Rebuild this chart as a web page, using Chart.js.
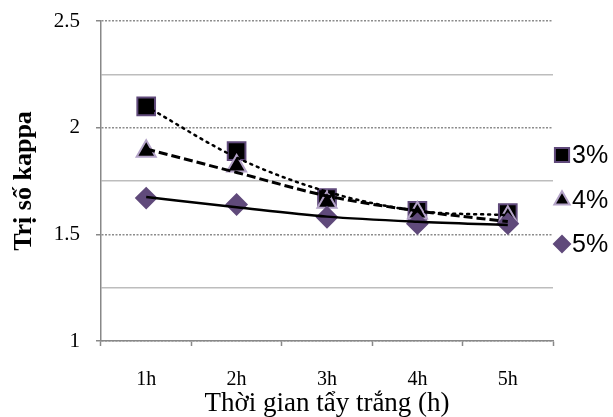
<!DOCTYPE html>
<html>
<head>
<meta charset="utf-8">
<script src="https://cdn.jsdelivr.net/npm/chart.js@4"></script>
<style>
  html, body { margin: 0; padding: 0; background: #fff; }
  #wrap { width: 613px; height: 417px; }
</style>
</head>
<body>
<div id="wrap"><canvas id="kappaChart" width="613" height="417"></canvas></div>
<script>
var hours = ['1h', '2h', '3h', '4h', '5h'];
var seriesNames = ['3%', '4%', '5%'];

// measured kappa values
var kappa3 = [2.10, 1.89, 1.67, 1.61, 1.60];
var kappa4 = [1.89, 1.82, 1.65, 1.60, 1.58];
var kappa5 = [1.67, 1.64, 1.58, 1.55, 1.55];

// trend curves read at each time
var trend3 = [2.10, 1.86, 1.70, 1.61, 1.59];
var trend4 = [1.90, 1.79, 1.68, 1.61, 1.56];
var trend5 = [1.675, 1.627, 1.583, 1.559, 1.544];

var yMin = 1, yMax = 2.5, yStep = 0.25;

var purple = '#604a7b';
var lilac = '#b3a2c7';

var markerSets = [
  { label: seriesNames[0], data: kappa3, pointStyle: 'rect', radius: 12.5, bg: '#000', border: purple, order: 4 },
  { label: seriesNames[1], data: kappa4, pointStyle: 'triangle', radius: 11, bg: '#000', border: lilac, order: 3 },
  { label: seriesNames[2], data: kappa5, pointStyle: 'rectRot', radius: 10, bg: purple, border: purple, order: 2 }
];

var datasets = [
  { label: 'trend3', data: trend3, borderColor: '#000', borderWidth: 2.5, borderDash: [2, 5], borderCapStyle: 'round',
    pointRadius: 0, cubicInterpolationMode: 'monotone', fill: false, order: 1 },
  { label: 'trend4', data: trend4, borderColor: '#000', borderWidth: 3, borderDash: [9, 4],
    pointRadius: 0, cubicInterpolationMode: 'monotone', fill: false, order: 1 },
  { label: 'trend5', data: trend5, borderColor: '#000', borderWidth: 2.5,
    pointRadius: 0, cubicInterpolationMode: 'monotone', fill: false, order: 1 }
];

markerSets.forEach(function (m) {
  datasets.push({
    label: m.label,
    data: m.data,
    showLine: false,
    pointStyle: m.pointStyle,
    pointRadius: m.radius,
    pointHoverRadius: m.radius,
    pointBackgroundColor: m.bg,
    pointBorderColor: m.border,
    pointBorderWidth: 2,
    backgroundColor: m.bg,
    borderColor: m.border,
    order: m.order
  });
});

function isMajor(v) {
  return Math.abs(v * 2 - Math.round(v * 2)) < 1e-6;
}

// legend on the right: markers only, no lines
var sideLegend = {
  id: 'sideLegend',
  afterDraw: function (chart) {
    var ctx = chart.ctx;
    var rows = [155, 200, 244];
    ctx.save();
    markerSets.forEach(function (m, i) {
      ctx.fillStyle = m.bg;
      ctx.strokeStyle = m.border;
      ctx.lineWidth = 2;
      Chart.helpers.drawPoint(ctx, { pointStyle: m.pointStyle, radius: m.radius * 0.8, rotation: 0, borderWidth: 2 }, 562, rows[i]);
      ctx.fillStyle = '#000';
      ctx.font = '25px "Liberation Sans", Arial, sans-serif';
      ctx.textBaseline = 'middle';
      ctx.textAlign = 'left';
      ctx.fillText(m.label, 572, rows[i] + 1);
    });
    ctx.restore();
  }
};

new Chart(document.getElementById('kappaChart'), {
  type: 'line',
  data: { labels: hours, datasets: datasets },
  options: {
    responsive: false,
    animation: false,
    events: [],
    layout: { autoPadding: false, padding: { top: 21, right: 60, left: 0, bottom: 0 } },
    plugins: {
      legend: { display: false },
      tooltip: { enabled: false }
    },
    scales: {
      x: {
        offset: true,
        grid: {
          offset: true,
          drawOnChartArea: false,
          drawTicks: true,
          tickLength: 5,
          tickColor: '#888',
          tickWidth: 1.5
        },
        border: { color: '#888', width: 1.5 },
        ticks: {
          color: '#000',
          padding: 22,
          font: { family: '"Liberation Serif", "Times New Roman", serif', size: 20 }
        },
        title: {
          display: true,
          text: 'Thời gian tẩy trắng (h)',
          color: '#000',
          padding: { top: 0, bottom: -3 },
          font: { family: '"Liberation Serif", "Times New Roman", serif', size: 27 }
        },
        afterFit: function (scale) { scale.height = 76; }
      },
      y: {
        min: yMin,
        max: yMax,
        ticks: {
          stepSize: yStep,
          color: '#000',
          padding: 16,
          font: { family: '"Liberation Serif", "Times New Roman", serif', size: 21 },
          callback: function (v) { return isMajor(v) ? String(v) : ''; }
        },
        grid: {
          color: function (c) { return isMajor(c.tick.value) ? '#8c8c8c' : '#bdbdbd'; },
          lineWidth: 1.5,
          tickLength: 5,
          tickColor: function (c) { return isMajor(c.tick.value) ? '#888' : 'rgba(0,0,0,0)'; }
        },
        border: {
          color: '#888',
          width: 1.5,
          dash: function (c) { return (c.tick && isMajor(c.tick.value)) ? [2, 1.5] : []; }
        },
        title: {
          display: true,
          text: 'Trị số kappa',
          color: '#000',
          padding: { top: 9, bottom: 0 },
          font: { family: '"Liberation Serif", "Times New Roman", serif', size: 26, weight: 'bold' }
        },
        afterFit: function (scale) {
          scale.width = 101;
          scale.paddingTop = 0;
          scale.paddingBottom = 0;
        }
      }
    }
  },
  plugins: [sideLegend]
});
</script>
</body>
</html>
